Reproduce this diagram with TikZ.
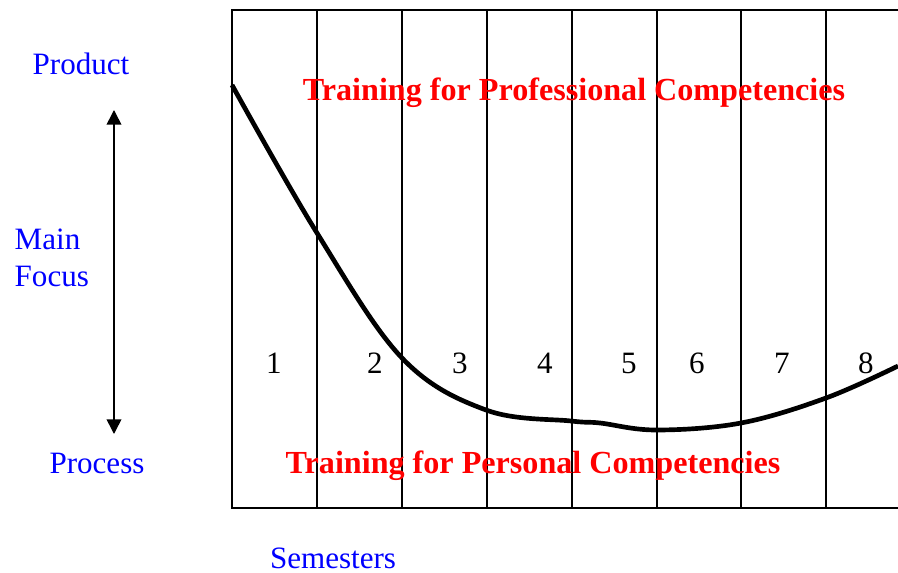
\documentclass[tikz,border=0pt]{standalone}
\usepackage{fontspec}
\setmainfont{Liberation Serif}
\usetikzlibrary{arrows.meta}

\tikzset{
	sidelabel/.style={text=blue, font=\fontsize{23.3}{27.8}\selectfont},
	trainlabel/.style={text=red, font=\fontsize{24.1}{28}\selectfont\bfseries},
	semnum/.style={font=\fontsize{23.3}{27.8}\selectfont},
	gridline/.style={line width=1.5pt},
}

\begin{document}
\begin{tikzpicture}[x=0.75pt,y=-0.75pt]
	\useasboundingbox (0,0) rectangle (898,573);
	% semester columns
	\draw[gridline] (898,10) -- (232,10) -- (232,508) -- (898,508);
	\foreach \i in {1,...,7}
		\draw[gridline] ({232+84.9*\i},10) -- ({232+84.9*\i},508);
	% semester numbers
	\foreach \n/\x in {1/274, 2/375, 3/460, 4/545, 5/629, 6/697, 7/782, 8/866}
		\node[semnum] (sem\n) at (\x,363) {\n};
	% focus curve
	\draw[line width=3.5pt] plot[smooth, tension=0.6] coordinates {(232,85) (317,233) (402,358) (486,410) (571,421) (600,423) (656,430) (741,423) (826,398) (898,366)};
	% side axis
	\node[sidelabel] (product) at (81,64) {Product};
	\node[sidelabel] (process) at (97,463) {Process};
	\node[sidelabel, align=left, anchor=west] (focus) at (10,258) {Main\\Focus};
	\coordinate (focustop) at (114,110);
	\coordinate (focusbot) at (114,434);
	\draw[line width=1.2pt, {Triangle[length=11pt,width=11pt]}-{Triangle[length=11pt,width=11pt]}] (focustop) -- (focusbot);
	\node[sidelabel] (semesters) at (333,558) {Semesters};
	% training labels
	\node[trainlabel] (professional) at (574,93) {Training for Professional Competencies};
	\node[trainlabel] (personal) at (533,466) {Training for Personal Competencies};
\end{tikzpicture}
\end{document}
